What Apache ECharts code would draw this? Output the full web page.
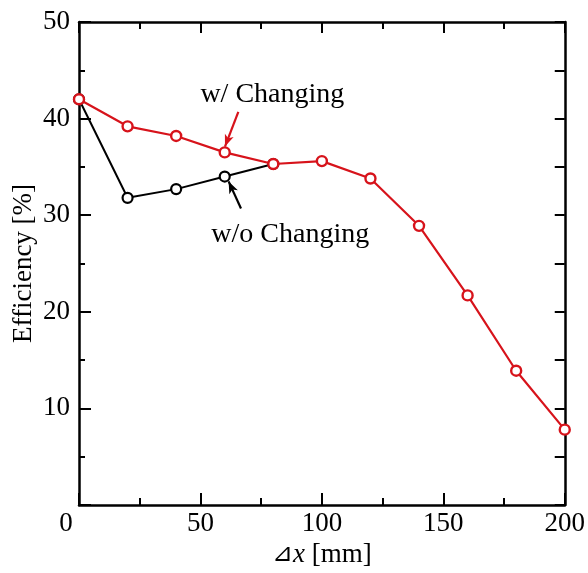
<!DOCTYPE html>
<html>
<head>
<meta charset="utf-8">
<script src="https://cdn.jsdelivr.net/npm/echarts@6/dist/echarts.min.js"></script>
<style>
  html, body { margin: 0; padding: 0; background: #fff; }
  #chart { width: 588px; height: 573px; }
</style>
</head>
<body>
<div id="chart"></div>
<script>
// Offset of the sensor pair [mm]
const dxWith = [0, 20, 40, 60, 80, 100, 120, 140, 160, 180, 200];
const effWith = [42.0, 39.2, 38.2, 36.5, 35.3, 35.6, 33.8, 28.9, 21.7, 13.9, 7.8];

const dxWithout = [0, 20, 40, 60, 80];
const effWithout = [42.0, 31.8, 32.7, 34.0, 35.3];

const xTicks = [0, 50, 100, 150, 200];
const yTicks = [10, 20, 30, 40, 50];

const labelWith = 'w/ Changing';
const labelWithout = 'w/o Changing';

const RED = '#d7131b';
const BLACK = '#000';
const FONT = 'Liberation Serif';
const FS = 27;

const pairs = (xs, ys) => xs.map((x, i) => [x, ys[i]]);

const chart = echarts.init(document.getElementById('chart'), null, { renderer: 'canvas' });

const axisLine = { show: true, onZero: false, lineStyle: { color: BLACK, width: 2.5 } };

chart.setOption({
  animation: false,
  backgroundColor: '#fff',
  textStyle: { fontFamily: FONT },
  grid: { left: 79, right: 23, top: 22, bottom: 66, containLabel: false },
  xAxis: [
    {
      type: 'value', min: 0, max: 200, interval: 50, position: 'bottom',
      axisLine,
      axisTick: { show: true, inside: true, length: 12, lineStyle: { color: BLACK, width: 2 } },
      minorTick: { show: true, splitNumber: 2, length: 7, lineStyle: { color: BLACK, width: 2 } },
      splitLine: { show: false },
      axisLabel: {
        margin: 5,
        color: BLACK, fontFamily: FONT, fontSize: FS,
        formatter: v => xTicks.includes(v) ? (v === 0 ? '{z|0}' : String(v)) : '',
        rich: { z: { fontFamily: FONT, fontSize: FS, color: BLACK, padding: [0, 26, 0, 0] } }
      },
      name: '{d|⊿}{v|x} [mm]',
      nameLocation: 'middle', nameGap: 36, nameMoveOverlap: false,
      nameTextStyle: {
        color: BLACK, fontFamily: FONT, fontSize: FS,
        rich: {
          d: { fontFamily: FONT, fontSize: 25, color: BLACK },
          v: { fontFamily: FONT, fontSize: FS, fontStyle: 'italic', color: BLACK }
        }
      }
    },
    {
      type: 'value', min: 0, max: 200, interval: 50, position: 'top',
      axisLine,
      axisTick: { show: true, inside: true, length: 11, lineStyle: { color: BLACK, width: 2 } },
      minorTick: { show: true, splitNumber: 2, length: 7, lineStyle: { color: BLACK, width: 2 } },
      splitLine: { show: false },
      axisLabel: { show: false }
    }
  ],
  yAxis: [
    {
      type: 'value', min: 0, max: 50, interval: 10, position: 'left',
      axisLine,
      axisTick: { show: true, inside: true, length: 12, lineStyle: { color: BLACK, width: 2 } },
      minorTick: { show: true, splitNumber: 2, length: 6, lineStyle: { color: BLACK, width: 2 } },
      splitLine: { show: false },
      axisLabel: {
        margin: 9, color: BLACK, fontFamily: FONT, fontSize: FS,
        formatter: v => yTicks.includes(v) ? String(v) : ''
      },
      name: 'Efficiency [%]',
      nameLocation: 'middle', nameGap: 42, nameRotate: 90, nameMoveOverlap: false,
      nameTextStyle: { color: BLACK, fontFamily: FONT, fontSize: FS }
    },
    {
      type: 'value', min: 0, max: 50, interval: 10, position: 'right',
      axisLine,
      axisTick: { show: true, inside: true, length: 10, lineStyle: { color: BLACK, width: 2 } },
      minorTick: { show: true, splitNumber: 2, length: 10, lineStyle: { color: BLACK, width: 2 } },
      splitLine: { show: false },
      axisLabel: { show: false }
    }
  ],
  series: [
    {
      name: labelWithout,
      type: 'line',
      data: pairs(dxWithout, effWithout),
      symbol: 'circle', symbolSize: 10, showAllSymbol: true,
      lineStyle: { color: BLACK, width: 2 },
      itemStyle: { color: '#fff', borderColor: BLACK, borderWidth: 2.2 },
      z: 2,
      markLine: {
        silent: true, symbol: ['none', 'arrow'], symbolSize: [7, 12],
        lineStyle: { color: BLACK, width: 2.2, type: 'solid' },
        label: { show: false },
        data: [[{ coord: [66.7, 30.7] }, { coord: [61.6, 33.5] }]]
      },
      markPoint: {
        silent: true, symbol: 'circle', symbolSize: 0,
        label: {
          show: true, position: 'inside', formatter: '{b}',
          color: BLACK, fontFamily: FONT, fontSize: 28
        },
        data: [{ name: labelWithout, coord: [87, 28.0] }]
      }
    },
    {
      name: labelWith,
      type: 'line',
      data: pairs(dxWith, effWith),
      symbol: 'circle', symbolSize: 10, showAllSymbol: true,
      lineStyle: { color: RED, width: 2.2 },
      itemStyle: { color: '#fff', borderColor: RED, borderWidth: 2.4 },
      z: 3,
      markLine: {
        silent: true, symbol: ['none', 'arrow'], symbolSize: [7, 12],
        lineStyle: { color: RED, width: 2.2, type: 'solid' },
        label: { show: false },
        data: [[{ coord: [65.6, 40.7] }, { coord: [60.1, 37.1] }]]
      },
      markPoint: {
        silent: true, symbol: 'circle', symbolSize: 0,
        label: {
          show: true, position: 'inside', formatter: '{b}',
          color: BLACK, fontFamily: FONT, fontSize: 28
        },
        data: [{ name: labelWith, coord: [79.6, 42.5] }]
      }
    }
  ]
});
</script>
</body>
</html>
